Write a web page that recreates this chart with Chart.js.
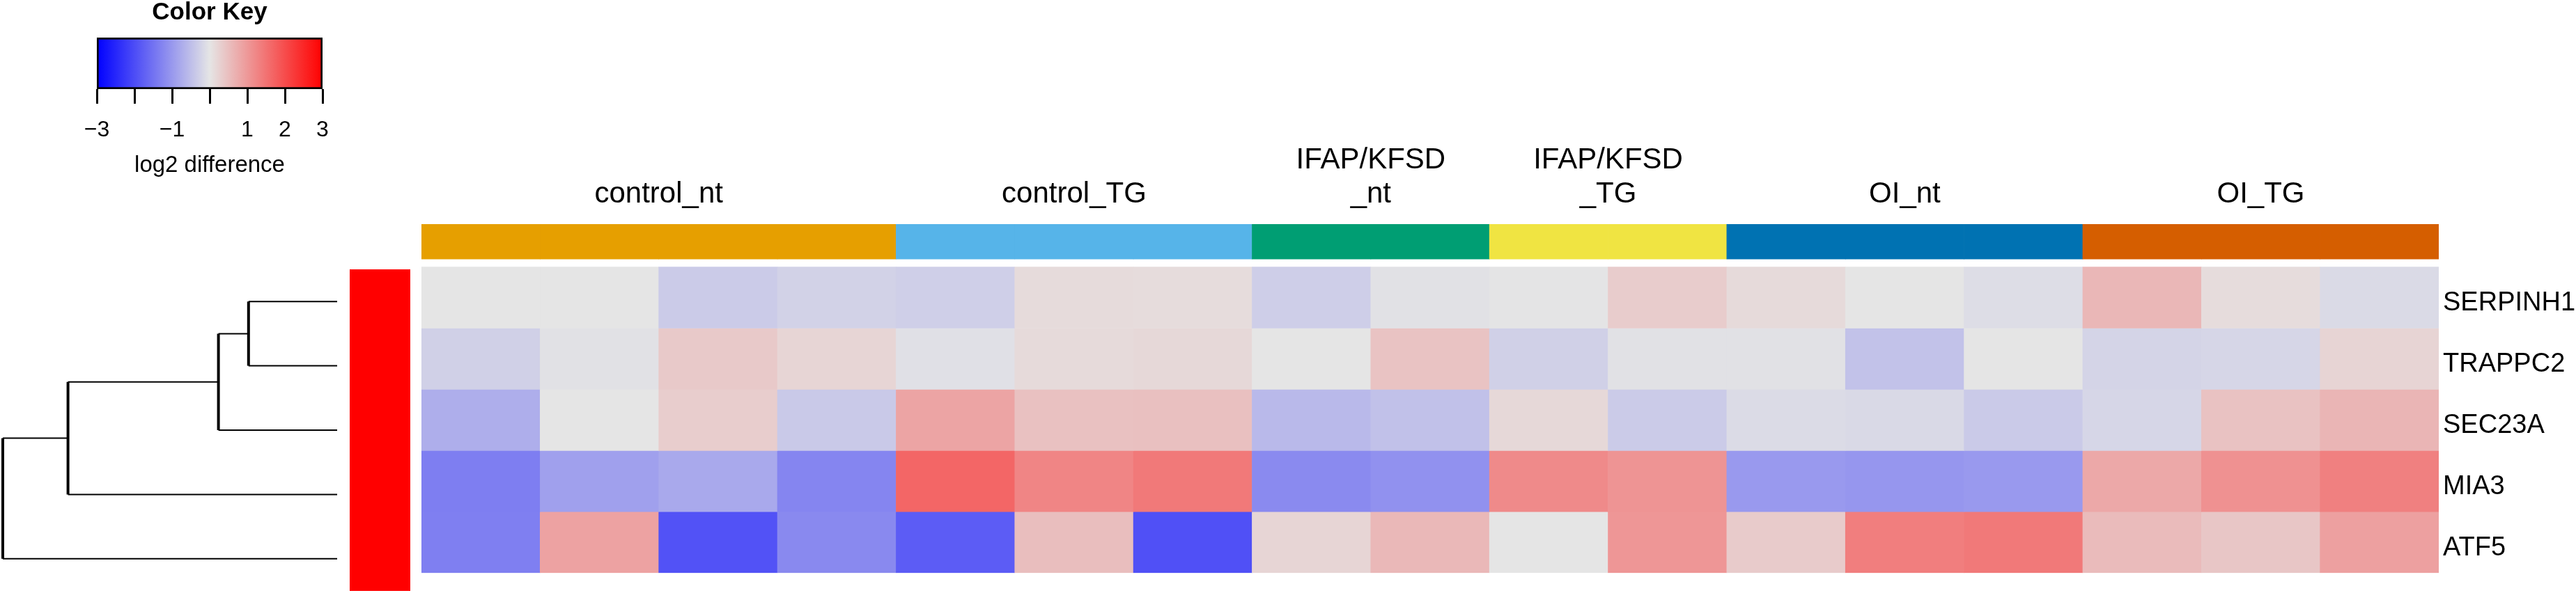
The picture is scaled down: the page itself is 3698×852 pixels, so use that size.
<!DOCTYPE html>
<html>
<head>
<meta charset="utf-8">
<title>Color Key heatmap</title>
<script src="https://cdn.jsdelivr.net/npm/chart.js@4.4.1/dist/chart.umd.min.js"></script>
<style>
  html, body { margin:0; padding:0; background:#fff; }
  body { width:3698px; height:852px; position:relative; overflow:hidden; }
  canvas { position:absolute; }
  #heat { left:0; top:0; }
  #dend { left:0; top:380px; }
  #side { left:502px; top:387px; }
  #key  { left:0; top:0; }
</style>
</head>
<body>
<canvas id="heat" width="3698" height="852"></canvas>
<canvas id="dend" width="492" height="476"></canvas>
<canvas id="side" width="87" height="462"></canvas>
<canvas id="key" width="600" height="270"></canvas>
<script>
// rows, top to bottom, as ordered by the dendrogram
const genes = ['SERPINH1', 'TRAPPC2', 'SEC23A', 'MIA3', 'ATF5'];
// log2 difference per sample column (17 columns)
const SERPINH1 = [0.00, 0.00, -0.34, -0.25, -0.29, 0.13, 0.12, -0.30, -0.05, -0.01, 0.33, 0.14, 0.00, -0.10, 0.60, 0.12, -0.14];
const TRAPPC2  = [-0.27, -0.05, 0.37, 0.21, -0.07, 0.14, 0.17, 0.00, 0.45, -0.27, -0.05, -0.05, -0.46, 0.00, -0.22, -0.20, 0.22];
const SEC23A   = [-0.72, 0.00, 0.31, -0.37, 0.85, 0.47, 0.48, -0.58, -0.47, 0.17, -0.34, -0.13, -0.16, -0.35, -0.20, 0.46, 0.63];
const MIA3     = [-1.35, -0.90, -0.79, -1.26, 1.66, 1.26, 1.41, -1.19, -1.10, 1.19, 1.06, -1.00, -1.03, -1.00, 0.80, 1.10, 1.32];
const ATF5     = [-1.34, 0.88, -1.93, -1.20, -1.80, 0.51, -1.95, 0.21, 0.59, 0.00, 1.03, 0.34, 1.35, 1.41, 0.55, 0.40, 0.90];

// column groups
const groupNames  = ['control_nt', 'control_TG', 'IFAP/KFSD\n_nt', 'IFAP/KFSD\n_TG', 'OI_nt', 'OI_TG'];
const groupSizes  = [4, 3, 2, 2, 3, 3];
const groupColors = ['#E69F00', '#56B4E9', '#009E73', '#F0E442', '#0072B2', '#D55E00'];
const rowSideColors = ['#FF0000', '#FF0000', '#FF0000', '#FF0000', '#FF0000'];

// colour key
const keyBreaks = [-3, 0, 3];
const keyColors = ['#0000FF', '#E5E5E5', '#FF0000'];
const keyTicks = [-3, -2, -1, 0, 1, 2, 3];
const keyTickLabels = ['\u22123', '', '\u22121', '', '1', '2', '3'];

// row dendrogram, hclust style: negative = leaf (1-based), positive = earlier merge
const dendMerge  = [[-1, -2], [-3, 1], [-4, 2], [-5, 3]];
const dendHeight = [1.06, 1.42, 3.22, 4.0];

const FONT = '"Liberation Sans", Arial, Helvetica, sans-serif';
const BAR_LO = 5.13, BAR_HI = 5.70;   // column colour strip, in row units
const rows = [SERPINH1, TRAPPC2, SEC23A, MIA3, ATF5];
const nRows = genes.length;

const columns = [], colGroup = [], groupCenters = [];
let start = 0;
groupNames.forEach((g, gi) => {
  for (let k = 0; k < groupSizes[gi]; k++) { columns.push(g.replace('\n', '') + '_' + (k + 1)); colGroup.push(gi); }
  groupCenters.push(start + (groupSizes[gi] - 1) / 2);
  start += groupSizes[gi];
});

function rgb(h){ return [1, 3, 5].map(i => parseInt(h.substr(i, 2), 16)); }
function heatColor(v){
  v = Math.max(keyBreaks[0], Math.min(keyBreaks[keyBreaks.length - 1], v));
  let i = 0;
  while (i < keyBreaks.length - 2 && v > keyBreaks[i + 1]) i++;
  const t = (v - keyBreaks[i]) / (keyBreaks[i + 1] - keyBreaks[i]);
  const a = rgb(keyColors[i]), b = rgb(keyColors[i + 1]);
  const c = a.map((x, k) => Math.round(x + (b[k] - x) * t));
  return `rgb(${c[0]},${c[1]},${c[2]})`;
}

Chart.defaults.font.family = FONT;
Chart.defaults.color = '#000';
const noAxis = { display: false };
const quiet = { legend: { display: false }, tooltip: { enabled: false } };

// ---- heatmap + column strip
const heatSets = rows.map((vals, r) => ({
  label: genes[r],
  data: vals.map(() => [nRows - 1 - r, nRows - r]),
  backgroundColor: vals.map(heatColor),
  borderWidth: 0, grouped: false, barPercentage: 1, categoryPercentage: 1
}));
heatSets.push({
  label: 'groups',
  data: columns.map(() => [BAR_LO, BAR_HI]),
  backgroundColor: colGroup.map(g => groupColors[g]),
  borderWidth: 0, grouped: false, barPercentage: 1, categoryPercentage: 1
});

new Chart(document.getElementById('heat'), {
  type: 'bar',
  data: { labels: columns, datasets: heatSets },
  options: {
    responsive: false, animation: false,
    layout: { padding: { left: 605, right: 0, top: 0, bottom: 3 } },
    plugins: quiet,
    scales: {
      x: noAxis,
      xg: {
        type: 'linear', axis: 'x', position: 'top', offset: false,
        min: -0.5, max: columns.length - 0.5,
        grid: { display: false, drawTicks: false, offset: false }, border: { display: false },
        afterBuildTicks: s => { s.ticks = groupCenters.map(v => ({ value: v })); },
        afterFit: s => { s.height = 322; },
        ticks: { autoSkip: false, maxRotation: 0, padding: 18, color: '#000',
          font: { size: 42, lineHeight: 49 / 42 },
          callback: (v, i) => groupNames[i].split('\n') }
      },
      y: {
        position: 'right', min: 0, max: BAR_HI,
        grid: { display: false, drawTicks: false }, border: { display: false },
        afterBuildTicks: s => { s.ticks = genes.map((g, r) => ({ value: nRows - 1 - r + 0.5 })); },
        afterFit: s => { s.width = 197; },
        ticks: { autoSkip: false, padding: 6, labelOffset: 8, color: '#000',
          font: { size: 38 }, callback: (v, i) => genes[i] }
      }
    }
  }
});

// ---- row dendrogram
const leafY = genes.map((g, i) => nRows - 1 - i + 0.5);
const nodes = [];
const dendSets = dendMerge.map((m, k) => {
  const kid = id => id < 0 ? { y: leafY[-id - 1], h: 0 } : nodes[id - 1];
  const a = kid(m[0]), b = kid(m[1]), h = dendHeight[k];
  nodes.push({ y: (a.y + b.y) / 2, h });
  return {
    data: [{ x: a.h, y: a.y }, { x: h, y: a.y }, { x: h, y: b.y }, { x: b.h, y: b.y }],
    showLine: true, pointRadius: 0, borderColor: '#000', borderWidth: 2, clip: false,
    segment: { borderWidth: c => Math.abs(c.p0.y - c.p1.y) < 0.5 ? 2 : 4 }
  };
});
new Chart(document.getElementById('dend'), {
  type: 'scatter',
  data: { datasets: dendSets },
  options: {
    responsive: false, animation: false,
    layout: { padding: { left: 4, right: 8, top: 7, bottom: 7 } },
    plugins: quiet,
    scales: {
      x: { display: false, min: 0, max: Math.max(...dendHeight), reverse: true },
      y: { display: false, min: 0, max: nRows }
    }
  }
});

// ---- row side colours
new Chart(document.getElementById('side'), {
  type: 'bar',
  data: { labels: ['side'], datasets: rowSideColors.map((c, r) => ({
    data: [[nRows - 1 - r, nRows - r]], backgroundColor: c,
    borderWidth: 0, grouped: false, barPercentage: 1, categoryPercentage: 1 })) },
  options: {
    responsive: false, animation: false, layout: { padding: 0 }, plugins: quiet,
    scales: { x: noAxis, y: { display: false, min: 0, max: nRows } }
  }
});

// ---- colour key
function keyGradient(ctx){
  const ch = ctx.chart;
  if (!ch.chartArea) return keyColors[1];
  const xs = ch.scales.x, lo = keyBreaks[0], hi = keyBreaks[keyBreaks.length - 1];
  const g = ch.ctx.createLinearGradient(xs.getPixelForValue(lo), 0, xs.getPixelForValue(hi), 0);
  keyBreaks.forEach((b, i) => g.addColorStop((b - lo) / (hi - lo), keyColors[i]));
  return g;
}
new Chart(document.getElementById('key'), {
  type: 'bar',
  data: { labels: ['key'], datasets: [{
    data: [[keyBreaks[0], keyBreaks[keyBreaks.length - 1]]],
    backgroundColor: keyGradient, borderColor: '#000', borderWidth: 3, borderSkipped: false,
    barPercentage: 1, categoryPercentage: 1 }] },
  options: {
    indexAxis: 'y', responsive: false, animation: false,
    layout: { padding: { left: 139, right: 137, top: 0, bottom: 12 } },
    plugins: Object.assign({
      title: { display: true, text: 'Color Key', color: '#000',
        font: { size: 35, weight: 'bold', lineHeight: 1 }, padding: { top: 1, bottom: 18 } }
    }, quiet),
    scales: {
      y: noAxis,
      x: {
        min: keyBreaks[0], max: keyBreaks[keyBreaks.length - 1],
        grid: { drawOnChartArea: false, drawTicks: true, tickLength: 21, color: '#000', lineWidth: 3 },
        border: { display: false },
        afterBuildTicks: s => { s.ticks = keyTicks.map(v => ({ value: v })); },
        afterFit: s => { s.height = 130; },
        ticks: { autoSkip: false, maxRotation: 0, padding: 19, color: '#000',
          font: { size: 32 }, callback: (v, i) => keyTickLabels[i] },
        title: { display: true, text: 'log2 difference', color: '#000', font: { size: 33 }, padding: 0 }
      }
    }
  }
});
</script>
</body>
</html>
